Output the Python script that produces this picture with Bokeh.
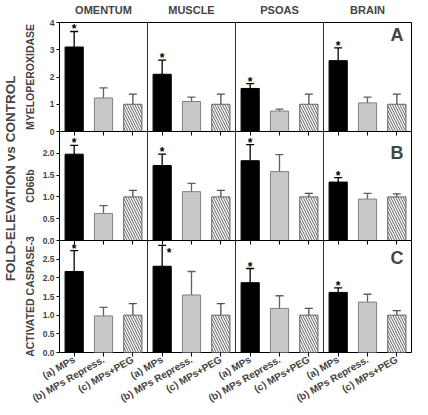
from bokeh.plotting import figure
from bokeh.layouts import column, row
from bokeh.models import (ColumnDataSource, Range1d, FixedTicker, LinearAxis, Whisker,
                          TeeHead, Span, Label, PrintfTickFormatter)
from bokeh.embed import file_html
from bokeh.resources import INLINE
from bokeh.core.properties import value
import math

FONT = "Liberation Sans"

regions = ["OMENTUM", "MUSCLE", "PSOAS", "BRAIN"]
treatments = ["(a) MPs", "(b) MPs Repress.", "(c) MPs+PEG"]
y_title = "FOLD-ELEVATION vs CONTROL"

# values listed region by region: (a), (b), (c)
mpo_mean = [3.10, 1.23, 1.00, 2.10, 1.10, 1.00, 1.58, 0.75, 1.00, 2.60, 1.05, 1.00]
mpo_sem = [0.57, 0.37, 0.37, 0.52, 0.16, 0.37, 0.18, 0.07, 0.37, 0.47, 0.21, 0.37]

cd66b_mean = [1.98, 0.62, 1.00, 1.72, 1.12, 1.00, 1.83, 1.58, 1.00, 1.34, 0.95, 1.00]
cd66b_sem = [0.20, 0.18, 0.15, 0.26, 0.19, 0.15, 0.37, 0.39, 0.08, 0.10, 0.13, 0.07]

casp_mean = [2.17, 0.98, 1.00, 2.31, 1.54, 1.00, 1.87, 1.18, 1.00, 1.61, 1.35, 1.00]
casp_sem = [0.56, 0.23, 0.31, 0.56, 0.63, 0.31, 0.38, 0.34, 0.18, 0.12, 0.21, 0.12]

# significant bars: (region index, treatment index, star placement)
mpo_stars = [(0, 0, "top"), (1, 0, "top"), (2, 0, "top"), (3, 0, "top")]
cd66b_stars = [(0, 0, "top"), (1, 0, "top"), (2, 0, "top"), (3, 0, "top")]
casp_stars = [(0, 0, "top"), (1, 0, "right"), (2, 0, "top"), (3, 0, "top")]

mpo_ticks = [0, 1, 2, 3, 4]
cd66b_ticks = [0.0, 0.5, 1.0, 1.5, 2.0]
casp_ticks = [0.0, 0.5, 1.0, 1.5, 2.0, 2.5]

panels = [
    dict(label="MYELOPEROXIDASE", letter="A", mean=mpo_mean, sem=mpo_sem, ymax=4,
         ticks=mpo_ticks, fmt="%d", stars=mpo_stars),
    dict(label="CD66b", letter="B", mean=cd66b_mean, sem=cd66b_sem, ymax=2.5,
         ticks=cd66b_ticks, fmt="%.1f", stars=cd66b_stars),
    dict(label="ACTIVATED CASPASE-3", letter="C", mean=casp_mean, sem=casp_sem, ymax=3,
         ticks=casp_ticks, fmt="%.1f", stars=casp_stars),
]

# ---- styling / layout ----
FRAME_W = 352
FRAME_H = [109, 109, 112]
LETTER_DY = [2, 11, 7]
LABEL_FIG_W = 17
BORDER_LEFT = 41
OVERLAP = 6
EXTRA_TOP = 10

bar_styles = [
    dict(fill_color="black", line_color="black"),
    dict(fill_color="#c8c8c8", line_color="#808080"),
    dict(fill_color="white", line_color="#606060", hatch_pattern="\\",
         hatch_color="#606060", hatch_scale=5, hatch_weight=1),
]
err_colors = ["black", "#606060", "#505050"]

n_reg, n_tr = len(regions), len(treatments)
xs = [g * n_tr + t + 0.5 for g in range(n_reg) for t in range(n_tr)]
x_end = n_reg * n_tr

figs = []
for i, pan in enumerate(panels):
    last = i == len(panels) - 1
    first = i == 0
    kw = dict(
        frame_width=FRAME_W, frame_height=FRAME_H[i],
        x_range=Range1d(0, x_end), y_range=Range1d(0, pan["ymax"]),
        output_backend="svg", toolbar_location=None,
        min_border_left=BORDER_LEFT, min_border_right=2,
        min_border_top=0 if first else EXTRA_TOP, min_border_bottom=OVERLAP,
        x_axis_location="above" if first else "below",
    )
    p = figure(**kw)
    if not first:
        p.margin = (-(OVERLAP + EXTRA_TOP), 0, 0, 0)
        p.background_fill_color = None
        p.border_fill_color = None
    p.grid.visible = False
    p.outline_line_color = "black"
    p.outline_line_width = 1

    # y axis
    ya = p.yaxis[0]
    ya.ticker = FixedTicker(ticks=pan["ticks"])
    ya.formatter = PrintfTickFormatter(format=pan["fmt"])
    ya.minor_tick_line_color = None
    ya.major_tick_out = 3
    ya.major_tick_in = 0
    ya.major_label_standoff = 2
    ya.major_label_text_font = FONT
    ya.major_label_text_font_size = "8.5px"
    ya.major_label_text_font_style = "bold"
    ya.axis_label = pan["label"]
    ya.axis_label_text_font = FONT
    ya.axis_label_text_font_size = "10.5px"
    ya.axis_label_text_font_style = "bold"
    ya.axis_label_standoff = 11 if first else 4
    ya.axis_line_color = "black"

    if first:
        ta = p.xaxis[0]
        centers = [g * n_tr + n_tr / 2 for g in range(n_reg)]
        ta.ticker = FixedTicker(ticks=centers)
        ta.major_label_overrides = {c: regions[g] for g, c in enumerate(centers)}
        ta.major_tick_line_color = None
        ta.minor_tick_line_color = None
        ta.axis_line_color = None
        ta.major_label_standoff = 1
        ta.major_label_text_font = FONT
        ta.major_label_text_font_size = "11px"
        ta.major_label_text_font_style = "bold"
        xa = LinearAxis()
        p.add_layout(xa, "below")
    else:
        xa = p.xaxis[0]
    xa.ticker = FixedTicker(ticks=xs)
    xa.minor_tick_line_color = None
    xa.major_tick_out = 4
    xa.major_tick_in = 0
    xa.axis_line_color = None
    if last:
        xa.major_label_overrides = {x: treatments[k % n_tr] for k, x in enumerate(xs)}
        xa.major_label_orientation = math.pi / 6
        xa.major_label_standoff = 2
        xa.major_label_text_font = FONT
        xa.major_label_text_font_size = "10px"
        xa.major_label_text_font_style = "bold"
    else:
        xa.major_label_overrides = {x: "" for x in xs}
        xa.major_label_standoff = 0

    # group separators
    for g in range(1, n_reg):
        p.add_layout(Span(location=g * n_tr, dimension="height",
                          line_color="#303030", line_width=1))

    # bars + error bars
    for t in range(n_tr):
        idx = [k for k in range(len(xs)) if k % n_tr == t]
        src = ColumnDataSource(dict(
            x=[xs[k] for k in idx],
            mean=[pan["mean"][k] for k in idx],
            upper=[pan["mean"][k] + pan["sem"][k] for k in idx],
        ))
        p.add_layout(Whisker(source=src, base="x", lower="mean", upper="upper",
                             dimension="height", line_color=err_colors[t], line_width=1.3,
                             lower_head=None,
                             upper_head=TeeHead(size=8, line_color=err_colors[t], line_width=1.3)))
        p.vbar(x="x", top="mean", bottom=0, width=0.62, source=src, line_width=1,
               **bar_styles[t])

    # stars
    for place in ("top", "right"):
        sel = [(g * n_tr + t) for (g, t, pl) in pan["stars"] if pl == place]
        if not sel:
            continue
        ssrc = ColumnDataSource(dict(
            x=[xs[k] for k in sel],
            y=[pan["mean"][k] + pan["sem"][k] for k in sel],
            txt=["*"] * len(sel),
        ))
        p.text(x="x", y="y", text="txt", source=ssrc, text_align="center",
               text_baseline="alphabetic", text_font=value(FONT), text_font_style="bold",
               text_font_size="12px", text_color="black",
               x_offset=0 if place == "top" else 7,
               y_offset=-2 if place == "top" else 8)

    p.add_layout(Label(x=x_end, y=pan["ymax"], x_offset=-8, y_offset=-LETTER_DY[i],
                       text=pan["letter"], text_align="right", text_baseline="top",
                       text_font=FONT, text_font_size="18px", text_font_style="bold"))
    figs.append(p)

# overall y title in a narrow figure to the left
lab = figure(frame_width=1, frame_height=356, output_backend="svg", toolbar_location=None,
             x_axis_location=None, y_axis_location=None, title=y_title, title_location="left",
             min_border_left=LABEL_FIG_W - 1, min_border_right=0, min_border_top=0,
             min_border_bottom=0, outline_line_color=None)
lab.grid.visible = False
lab.title.text_font = FONT
lab.title.text_font_size = "13.5px"
lab.title.text_font_style = "bold"
lab.title.align = "center"
lab.title.standoff = 0

layout = row(lab, column(*figs, spacing=0), spacing=0)
open("out.html", "w").write(file_html(layout, INLINE))
